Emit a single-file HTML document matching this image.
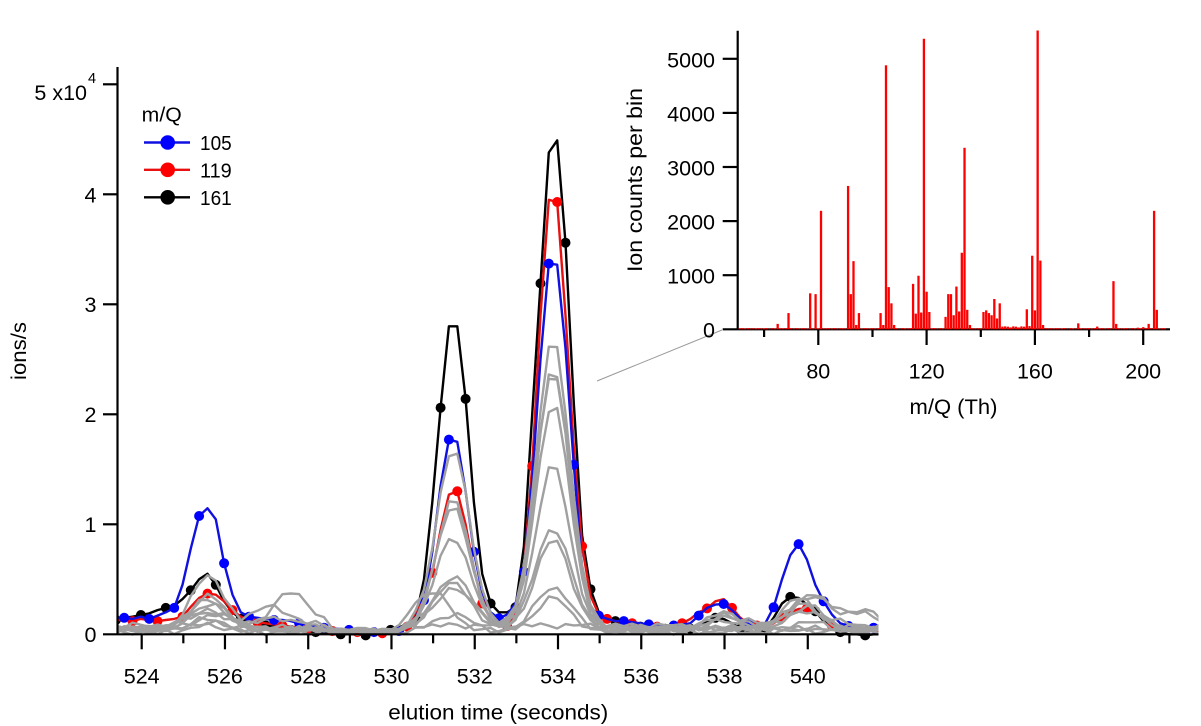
<!DOCTYPE html>
<html><head><meta charset="utf-8">
<style>
html,body{margin:0;padding:0;background:#fff;}
svg{display:block;}
text{font-family:"Liberation Sans",sans-serif;fill:#000;}
</style></head>
<body>
<svg id="s" width="1201" height="726" viewBox="0 0 1201 726" xmlns="http://www.w3.org/2000/svg">
<rect width="1201" height="726" fill="#fff"/>
<defs>
<clipPath id="cp"><rect x="118.5" y="40" width="760" height="602"/></clipPath>
<clipPath id="cp2"><rect x="738" y="30.5" width="435" height="300"/></clipPath>
</defs>

<!-- main data -->
<g id="data" clip-path="url(#cp)"></g>

<!-- main axes -->
<g stroke="#000" stroke-width="2.2" fill="none">
<line x1="117.5" y1="67" x2="117.5" y2="635"/>
<line x1="103" y1="634.3" x2="878.5" y2="634.3"/>
<line x1="103" y1="524.3" x2="117.5" y2="524.3"/>
<line x1="103" y1="414.3" x2="117.5" y2="414.3"/>
<line x1="103" y1="304.3" x2="117.5" y2="304.3"/>
<line x1="103" y1="194.3" x2="117.5" y2="194.3"/>
<line x1="103" y1="84.3" x2="117.5" y2="84.3"/>
</g>
<g id="xticks" stroke="#000" stroke-width="2.2"></g>
<g font-size="21.5" text-anchor="end">
<text x="96.5" y="642">0</text>
<text x="96.5" y="532">1</text>
<text x="96.5" y="422">2</text>
<text x="96.5" y="312">3</text>
<text x="96.5" y="202.5">4</text>
<text x="87" y="100.2">5 x10</text>
</g>
<text x="88" y="83" font-size="14.5">4</text>
<g id="xlabels" font-size="21.5" text-anchor="middle"></g>
<text x="498.3" y="719.5" font-size="21" text-anchor="middle" textLength="220" lengthAdjust="spacingAndGlyphs">elution time (seconds)</text>
<text transform="translate(26,351) rotate(-90)" font-size="21" text-anchor="middle" textLength="58" lengthAdjust="spacingAndGlyphs">ions/s</text>

<!-- legend -->
<text x="141.7" y="121.7" font-size="20" textLength="40" lengthAdjust="spacingAndGlyphs">m/Q</text>
<line x1="144" y1="142.5" x2="190" y2="142.5" stroke="#1010e0" stroke-width="2.4"/>
<circle cx="167.7" cy="142.5" r="7.3" fill="#0000ff"/>
<text x="200" y="150" font-size="20" textLength="31.7" lengthAdjust="spacingAndGlyphs">105</text>
<line x1="144" y1="169.8" x2="190" y2="169.8" stroke="#e81010" stroke-width="2.4"/>
<circle cx="167.7" cy="169.8" r="7.3" fill="#ff0000"/>
<text x="200" y="177.7" font-size="20" textLength="31.7" lengthAdjust="spacingAndGlyphs">119</text>
<line x1="144" y1="197.3" x2="190" y2="197.3" stroke="#000" stroke-width="2.4"/>
<circle cx="167.7" cy="197.3" r="7.3" fill="#000"/>
<text x="200" y="205" font-size="20" textLength="31.7" lengthAdjust="spacingAndGlyphs">161</text>

<!-- leader line -->
<line x1="597" y1="381" x2="722" y2="330" stroke="#999" stroke-width="1"/>

<!-- inset axes -->
<g stroke="#000" stroke-width="2.2" fill="none">
<line x1="737.7" y1="30.7" x2="737.7" y2="330"/>
<line x1="722.7" y1="329.3" x2="1170" y2="329.3"/>
<line x1="722.7" y1="275.2" x2="737.7" y2="275.2"/>
<line x1="722.7" y1="221.1" x2="737.7" y2="221.1"/>
<line x1="722.7" y1="167" x2="737.7" y2="167"/>
<line x1="722.7" y1="112.9" x2="737.7" y2="112.9"/>
<line x1="722.7" y1="58.8" x2="737.7" y2="58.8"/>
<line x1="818.3" y1="329.3" x2="818.3" y2="345"/>
<line x1="926.6" y1="329.3" x2="926.6" y2="345"/>
<line x1="1034.9" y1="329.3" x2="1034.9" y2="345"/>
<line x1="1143.2" y1="329.3" x2="1143.2" y2="345"/>
<line x1="764.1" y1="329.3" x2="764.1" y2="337"/>
<line x1="872.5" y1="329.3" x2="872.5" y2="337"/>
<line x1="980.8" y1="329.3" x2="980.8" y2="337"/>
<line x1="1089.1" y1="329.3" x2="1089.1" y2="337"/>
</g>
<g id="bars" clip-path="url(#cp2)"></g>
<g font-size="21.5" text-anchor="end">
<text x="715" y="337.5">0</text>
<text x="715" y="283.5">1000</text>
<text x="715" y="229.5">2000</text>
<text x="715" y="175.5">3000</text>
<text x="715" y="121.5">4000</text>
<text x="715" y="67.5">5000</text>
</g>
<g font-size="21.5" text-anchor="middle">
<text x="818.3" y="378.3">80</text>
<text x="926.6" y="378.3">120</text>
<text x="1034.9" y="378.3">160</text>
<text x="1143.2" y="378.3">200</text>
</g>
<text x="953.5" y="414" font-size="21" text-anchor="middle" textLength="88" lengthAdjust="spacingAndGlyphs">m/Q (Th)</text>
<text transform="translate(642,180) rotate(-90)" font-size="21" text-anchor="middle" textLength="184" lengthAdjust="spacingAndGlyphs">Ion counts per bin</text>
</svg>
<script>
(function(){
var NS="http://www.w3.org/2000/svg";
function el(tag,attrs,parent){var e=document.createElementNS(NS,tag);for(var k in attrs)e.setAttribute(k,attrs[k]);parent.appendChild(e);return e;}
function X(t){return 141.7+(t-524)*41.63;}
function Y(v){return 634.3-v*110;}
function T(k){return 523.38+0.2*k;}

var xt=document.getElementById('xticks'), xl=document.getElementById('xlabels');
for(var s=524;s<=541;s++){
  var x=X(s), major=(s%2===0);
  el('line',{x1:x,y1:634.3,x2:x,y2:major?649.3:643.3},xt);
  if(major){var t=el('text',{x:x,y:683.3},xl);t.textContent=String(s);}
}

var blue=[0.15,0.15,0.14,0.16,0.14,0.17,0.2,0.24,0.45,0.78,
1.075,1.145,1.045,0.645,0.36,0.2,0.16,0.15,0.14,0.13,
0.13,0.12,0.1,0.09,0.07,0.06,0.05,0.05,0.04,0.03,
0.02,0.02,0.02,0.02,0.03,0.06,0.15,0.31,0.75,1.35,
1.77,1.75,1.30,0.75,0.38,0.2,0.145,0.18,0.28,0.57,
1.4,2.5,3.37,3.36,2.6,1.54,0.6,0.25,0.17,0.14,
0.12,0.12,0.11,0.1,0.09,0.08,0.07,0.08,0.09,0.1,
0.17,0.24,0.27,0.275,0.22,0.14,0.09,0.07,0.1,0.245,
0.5,0.72,0.82,0.68,0.45,0.30,0.18,0.1,0.075,0.06,
0.06,0.06,0.05];
var red=[0.13,0.13,0.12,0.14,0.13,0.12,0.13,0.14,0.16,0.25,
0.33,0.37,0.36,0.3,0.22,0.16,0.13,0.11,0.1,0.09,
0.08,0.07,0.06,0.05,0.04,0.03,0.03,0.02,0.02,0.02,
0.01,0.01,0.01,0.02,0.04,0.07,0.2,0.35,0.56,0.95,
1.27,1.30,1.0,0.6,0.28,0.14,0.08,0.075,0.2,0.6,
1.53,2.9,3.95,3.93,2.9,1.7,0.80,0.35,0.18,0.14,
0.12,0.11,0.1,0.09,0.08,0.07,0.07,0.08,0.1,0.14,
0.2,0.235,0.30,0.32,0.24,0.15,0.1,0.08,0.08,0.1,
0.15,0.2,0.23,0.235,0.2,0.15,0.08,0.05,0.04,0.04,
0.04,0.04,0.04];
var black=[0.13,0.15,0.16,0.175,0.19,0.22,0.24,0.26,0.32,0.40,
0.5,0.55,0.45,0.3,0.2,0.14,0.12,0.1,0.08,0.07,
0.05,0.04,0.03,0.02,0.02,0.01,0.0,0.0,0.0,0.0,
-0.01,0.0,0.02,0.04,0.06,0.1,0.145,0.5,1.2,2.06,
2.80,2.80,2.14,1.2,0.55,0.28,0.2,0.2,0.245,0.8,
2.0,3.19,4.38,4.49,3.56,2.1,0.9,0.41,0.2,0.14,
0.12,0.1,0.08,0.07,0.06,0.06,0.05,0.05,0.05,0.05,
0.08,0.12,0.15,0.14,0.1,0.05,0.03,0.02,0.05,0.15,
0.28,0.34,0.33,0.27,0.21,0.12,0.06,0.02,0.0,0.0,
-0.01,0.0,0.0];

var g=document.getElementById('data');
function line(vals,color){
  var d='';
  for(var k=0;k<vals.length;k++){d+=(k?'L':'M')+X(T(k)).toFixed(1)+' '+Y(vals[k]).toFixed(1);}
  el('path',{d:d,fill:'none',stroke:color,'stroke-width':2.4,'stroke-linejoin':'round'},g);
}
function markers(vals,color,mod){
  for(var k=0;k<vals.length;k++){ if(k%3===mod) el('circle',{cx:X(T(k)).toFixed(1),cy:Y(vals[k]).toFixed(1),r:5,fill:color},g); }
}
line(black,'#000'); markers(black,'#000',0);
line(red,'#e81010'); markers(red,'#ff0000',2);
line(blue,'#1010e0'); markers(blue,'#0000ff',1);

var greys=[
 {b:.06,p:[[525.6,.48,.38],[531.48,1.62,.4],[533.88,2.62,.4],[539.8,.22,.4]]},
 {b:.05,p:[[525.6,.30,.4],[531.48,1.12,.4],[533.88,2.38,.4],[540.1,.30,.5],[541.3,.14,.35]]},
 {b:.05,p:[[525.6,.27,.42],[531.48,1.18,.4],[533.88,2.34,.4],[538,.12,.35]]},
 {b:.05,p:[[525.6,.22,.42],[531.48,.83,.42],[533.88,2.06,.4],[539.8,.28,.4]]},
 {b:.06,p:[[525.6,.16,.4],[527.6,.32,.45],[531.48,.46,.45],[533.88,1.48,.4],[540.1,.30,.45],[541.4,.15,.4]]},
 {b:.05,p:[[525.7,.12,.4],[527.1,.20,.5],[531.48,.42,.45],[533.88,.92,.42],[538,.16,.35]]},
 {b:.04,p:[[525.6,.10,.4],[531.48,.38,.45],[533.88,.82,.42],[540,.22,.4]]},
 {b:.03,p:[[525.6,.08,.4],[530.95,.36,.45],[533.88,.40,.42],[538,.10,.35]]},
 {b:.02,p:[[525.6,.06,.4],[531.48,.16,.45],[533.88,.31,.42],[540,.10,.4]]},
 {b:.08,p:[[525.6,.12,.45],[527.3,.06,.5],[538.1,.08,.4],[540,.12,.5]]}
];
function gval(s,k,i){
  var t=T(k), v=s.b;
  for(var j=0;j<s.p.length;j++){var c=s.p[j][0],a=s.p[j][1],w=s.p[j][2];v+=a*Math.exp(-(t-c)*(t-c)/(2*w*w));}
  v+=0.018*Math.sin(k*2.3+i*1.7)+0.012*Math.sin(k*5.1+i*3.3);
  if(t>528.5&&t<530.3) v*=0.6;
  return v;
}
for(var i=0;i<greys.length;i++){
  var d='';
  for(var k=0;k<=92;k++){ d+=(k?'L':'M')+X(T(k)).toFixed(1)+' '+Y(gval(greys[i],k,i)).toFixed(1); }
  el('path',{d:d,fill:'none',stroke:'#a0a0a0','stroke-width':2.4,'stroke-linejoin':'round'},g);
}

function IX(m){return 818.3+(m-80)*2.708;}
function IY(v){return 329.3-v*0.0541;}
var bars={65:100,69:300,77:665,79:650,81:2190,91:2650,92:650,93:1260,94:80,95:300,103:300,104:80,105:4880,106:780,107:480,108:80,109:20,115:840,116:290,117:990,118:310,119:5370,120:695,121:320,127:230,128:650,129:650,130:260,131:790,132:330,133:1415,134:3355,135:360,136:80,141:320,142:350,143:300,144:260,145:560,146:200,147:480,148:50,157:370,158:60,159:1360,160:350,161:5600,162:1270,163:80,176:110,183:50,189:890,190:100,198:30,200:40,202:100,204:2190,205:360};
var bg=document.getElementById('bars');
for(var m=51;m<=208;m++){
  var v=bars[m];
  if(v===undefined){
    v=10+12*Math.abs(Math.sin(m*1.37));
    if(m>=149&&m<=156) v=30+25*Math.abs(Math.sin(m*2.1));
  }
  var y=IY(v);
  el('rect',{x:(IX(m)-1.15).toFixed(2),y:y.toFixed(2),width:2.3,height:(329.3-y).toFixed(2),fill:'#ff0000'},bg);
}
})();
</script>
</body></html>
